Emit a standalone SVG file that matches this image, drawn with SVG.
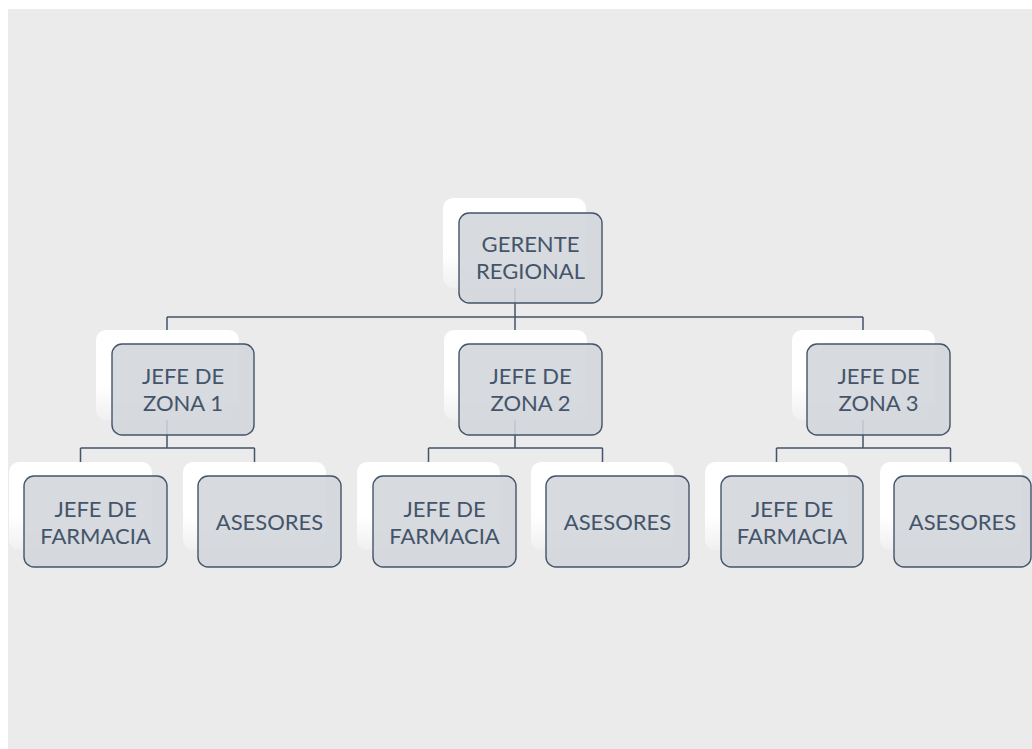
<svg xmlns="http://www.w3.org/2000/svg" width="1032" height="749" viewBox="0 0 1032 749">
  <defs>
    <linearGradient id="cardGrad" x1="0" y1="0" x2="0" y2="1">
      <stop offset="0" stop-color="#ffffff" stop-opacity="1"/>
      <stop offset="0.62" stop-color="#ffffff" stop-opacity="1"/>
      <stop offset="1" stop-color="#ffffff" stop-opacity="0.25"/>
    </linearGradient>
    <style>
      .card { fill: url(#cardGrad); }
      .box { fill: #d2d5da; fill-opacity: 0.88; stroke: #44546a; stroke-width: 1.4; }
      .lbl { font-family: Lato, "Open Sans", sans-serif; font-size: 22px; fill: #44546a; text-anchor: middle; }
      .conn { fill: none; stroke: #44546a; stroke-width: 1.5; }
    </style>
  </defs>
  <rect x="0" y="0" width="1032" height="749" fill="#ffffff"/>
  <rect x="8" y="9" width="1024" height="740" fill="#ebebeb"/>

  <g id="connectors">
    <path class="conn" d="M515 288 V317 M167 317 H863 M167 317 V330 M515 317 V330 M863 317 V330"/>
    <path class="conn" d="M167 420 V448 M80.5 448 H254.5 M80.5 448 V462 M254.5 448 V462"/>
    <path class="conn" d="M515 420 V448 M428.5 448 H602.5 M428.5 448 V462 M602.5 448 V462"/>
    <path class="conn" d="M863 420 V448 M776.5 448 H950.5 M776.5 448 V462 M950.5 448 V462"/>
  </g>

  <g id="gerente">
    <rect class="card" x="443" y="198" width="143" height="90" rx="10"/>
    <rect class="box" x="459" y="213" width="143" height="90" rx="10"/>
    <text class="lbl" x="530.5" y="252">GERENTE<tspan x="530.5" dy="27">REGIONAL</tspan></text>
  </g>

  <g id="zona1">
    <rect class="card" x="96" y="330" width="143" height="90" rx="10"/>
    <rect class="box" x="112" y="344" width="142" height="91" rx="10"/>
    <text class="lbl" x="183" y="384">JEFE DE<tspan x="183" dy="27">ZONA 1</tspan></text>
  </g>
  <g id="zona2">
    <rect class="card" x="444" y="330" width="143" height="90" rx="10"/>
    <rect class="box" x="459" y="344" width="143" height="91" rx="10"/>
    <text class="lbl" x="530.5" y="384">JEFE DE<tspan x="530.5" dy="27">ZONA 2</tspan></text>
  </g>
  <g id="zona3">
    <rect class="card" x="792" y="330" width="143" height="90" rx="10"/>
    <rect class="box" x="807" y="344" width="143" height="91" rx="10"/>
    <text class="lbl" x="878.5" y="384">JEFE DE<tspan x="878.5" dy="27">ZONA 3</tspan></text>
  </g>

  <g id="farmacia1">
    <rect class="card" x="9" y="462" width="143" height="88" rx="10"/>
    <rect class="box" x="24" y="476" width="143" height="91" rx="10"/>
    <text class="lbl" x="95.5" y="517">JEFE DE<tspan x="95.5" dy="27">FARMACIA</tspan></text>
  </g>
  <g id="asesores1">
    <rect class="card" x="183" y="462" width="143" height="88" rx="10"/>
    <rect class="box" x="198" y="476" width="143" height="91" rx="10"/>
    <text class="lbl" x="269.5" y="530">ASESORES</text>
  </g>
  <g id="farmacia2">
    <rect class="card" x="357" y="462" width="143" height="88" rx="10"/>
    <rect class="box" x="373" y="476" width="143" height="91" rx="10"/>
    <text class="lbl" x="444.5" y="517">JEFE DE<tspan x="444.5" dy="27">FARMACIA</tspan></text>
  </g>
  <g id="asesores2">
    <rect class="card" x="531" y="462" width="143" height="88" rx="10"/>
    <rect class="box" x="546" y="476" width="143" height="91" rx="10"/>
    <text class="lbl" x="617.5" y="530">ASESORES</text>
  </g>
  <g id="farmacia3">
    <rect class="card" x="705" y="462" width="143" height="88" rx="10"/>
    <rect class="box" x="721" y="476" width="142" height="91" rx="10"/>
    <text class="lbl" x="792" y="517">JEFE DE<tspan x="792" dy="27">FARMACIA</tspan></text>
  </g>
  <g id="asesores3">
    <rect class="card" x="880" y="462" width="142" height="88" rx="10"/>
    <rect class="box" x="894" y="476" width="137" height="91" rx="10"/>
    <text class="lbl" x="962.5" y="530">ASESORES</text>
  </g>
</svg>
